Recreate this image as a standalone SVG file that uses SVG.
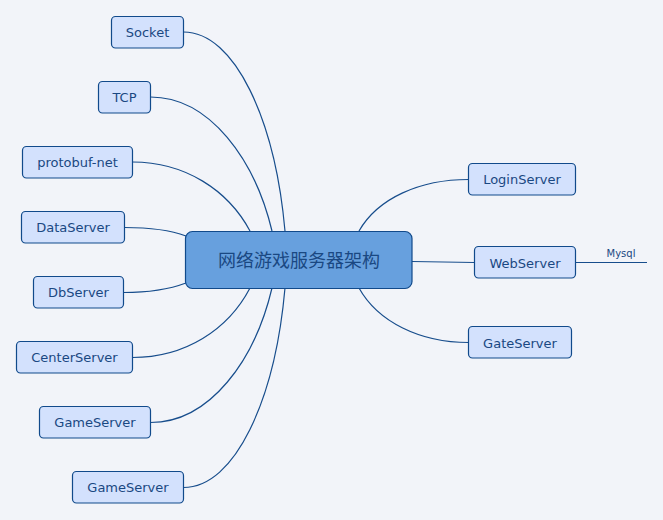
<svg xmlns="http://www.w3.org/2000/svg" width="663" height="520" viewBox="0 0 663 520">
<style>
.n rect{fill:#d3e1fd;stroke:#114a8b;stroke-width:1.2}
.n text{font-family:"DejaVu Sans",Verdana,sans-serif;font-size:13px;fill:#1a4882;text-anchor:middle}
.c{fill:none;stroke:#174d8c;stroke-width:1.2}
</style>
<rect width="663" height="520" fill="#f2f4f9"/>
<g id="connectors">
<path class="c" d="M183.5,32 C235,32 275,120 285,231"/>
<path class="c" d="M150.5,97 C210,97 255,160 272,231"/>
<path class="c" d="M132.5,162 C185,162 228,190 250,231"/>
<path class="c" d="M124.5,227.5 C150,227.5 170,230 186,236"/>
<path class="c" d="M123.5,292.5 C150,292.5 170,289 186,283"/>
<path class="c" d="M132.5,357.5 C185,357.5 228,330 250,288"/>
<path class="c" d="M150.5,422.5 C210,422.5 255,360 272,288"/>
<path class="c" d="M183.5,487.5 C235,487.5 275,400 285,288"/>
<path class="c" d="M359,231 C378,198 420,179.5 468.5,179.5"/>
<path class="c" d="M359,288 C378,322 420,342.5 468.5,342.5"/>
<path class="c" d="M412,261.5 L474.5,262.5"/>
<path class="c" d="M575.5,262.5 L647,262.5"/>
</g>
<g id="center">
<rect x="185.5" y="231.5" width="226.5" height="57" rx="7" fill="#67a0de" stroke="#114a8b" stroke-width="1.2"/>
<text x="299" y="266.5" font-family="'Noto Sans CJK SC',sans-serif" font-size="18" fill="#1a4882" text-anchor="middle">网络游戏服务器架构</text>
</g>
<g id="n-socket" class="n"><rect x="111.5" y="16.5" width="72" height="31.5" rx="4"/><text x="147.5" y="37">Socket</text></g>
<g id="n-tcp" class="n"><rect x="98.5" y="81.5" width="52" height="31.5" rx="4"/><text x="124.5" y="102">TCP</text></g>
<g id="n-protobuf" class="n"><rect x="22.5" y="146.5" width="110" height="31.5" rx="4"/><text x="77.5" y="167">protobuf-net</text></g>
<g id="n-data" class="n"><rect x="21.5" y="211.5" width="103" height="31.5" rx="4"/><text x="73" y="232">DataServer</text></g>
<g id="n-db" class="n"><rect x="33.5" y="276.5" width="90" height="31.5" rx="4"/><text x="78.5" y="297">DbServer</text></g>
<g id="n-center" class="n"><rect x="16.5" y="341.5" width="116" height="31.5" rx="4"/><text x="74.5" y="362">CenterServer</text></g>
<g id="n-game1" class="n"><rect x="39.5" y="406.5" width="111" height="31.5" rx="4"/><text x="95" y="427">GameServer</text></g>
<g id="n-game2" class="n"><rect x="72.5" y="471.5" width="111" height="31.5" rx="4"/><text x="128" y="492">GameServer</text></g>
<g id="n-login" class="n"><rect x="468.5" y="163.5" width="107" height="31.5" rx="4"/><text x="522" y="184">LoginServer</text></g>
<g id="n-web" class="n"><rect x="474.5" y="246.5" width="101" height="31.5" rx="4"/><text x="525" y="267.5">WebServer</text></g>
<g id="n-gate" class="n"><rect x="468.5" y="326.5" width="103" height="31.5" rx="4"/><text x="520" y="347.5">GateServer</text></g>
<text id="mysql" x="621" y="256.5" font-family="'DejaVu Sans',Verdana,sans-serif" font-size="10" fill="#1a4882" text-anchor="middle">Mysql</text>
</svg>
